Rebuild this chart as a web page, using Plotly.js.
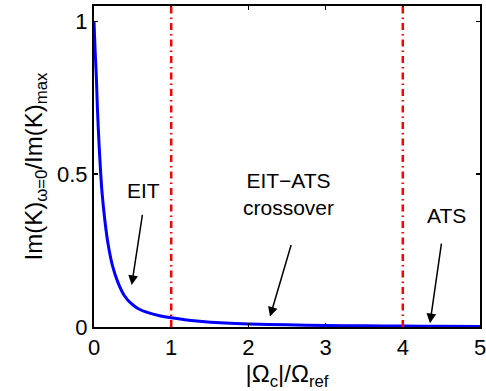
<!DOCTYPE html>
<html>
<head>
<meta charset="utf-8">
<script src="https://cdn.plot.ly/plotly-3.0.1.min.js"></script>
<style>html,body{margin:0;padding:0;background:#fff;}</style>
</head>
<body>
<div id="chart" style="width:486px;height:391px;"></div>
<script>
// Data
const omegaRatio = [0, 0.015, 0.03, 0.045, 0.065, 0.085, 0.104, 0.14, 0.18, 0.24, 0.31, 0.39, 0.48, 0.58, 0.7, 0.85, 1.0, 1.2, 1.4, 1.63, 2.0, 2.5, 3.0, 3.5, 4.0, 4.5, 5.0];
const imKRatio   = [1, 0.9, 0.82, 0.71, 0.6, 0.51, 0.44, 0.35, 0.275, 0.2, 0.146, 0.104, 0.077, 0.059, 0.047, 0.037, 0.03, 0.023, 0.018, 0.014, 0.01, 0.007, 0.005, 0.004, 0.003, 0.0025, 0.002];
const regimeBoundaries = [1, 4];
const xTicks = [0, 1, 2, 3, 4, 5];
const yTicks = [0, 0.5, 1];
const yTickLabels = ['0', '0.5', '1'];
const labelTexts = ['EIT', 'EIT\u2212ATS<br>crossover', 'ATS'];
const labelX = [0.641, 2.513, 4.56];
const labelY = [0.448, 0.435, 0.366];
const arrowTipX = [0.488, 2.28, 4.352];
const arrowTipY = [0.137, 0.034, 0.012];
const arrowTailX = [0.631, 2.561, 4.504];
const arrowTailY = [0.373, 0.275, 0.279];

const FONT = 'Liberation Sans, Arial, Helvetica, sans-serif';

const traces = [{
  x: omegaRatio,
  y: imKRatio,
  type: 'scatter',
  mode: 'lines',
  line: {color: '#0000ff', width: 3, shape: 'spline', smoothing: 0.8},
  hoverinfo: 'skip',
  showlegend: false
}];

const shapes = regimeBoundaries.map(v => ({
  type: 'line', xref: 'x', yref: 'paper',
  x0: v, x1: v, y0: 0, y1: 1,
  line: {color: '#ff0000', width: 2.5, dash: '7px,4px,1.5px,4px'},
  layer: 'above'
}));

const annotations = [];
labelTexts.forEach((t, i) => {
  annotations.push({
    x: labelX[i], y: labelY[i], xref: 'x', yref: 'y',
    text: t, showarrow: false,
    xanchor: 'center', yanchor: 'middle',
    font: {family: FONT, size: 21, color: '#000'}
  });
  annotations.push({
    x: arrowTipX[i], y: arrowTipY[i], xref: 'x', yref: 'y',
    ax: arrowTailX[i], ay: arrowTailY[i], axref: 'x', ayref: 'y',
    text: ' ', showarrow: true,
    arrowhead: 2, arrowsize: 1.3, arrowwidth: 1.5, arrowcolor: '#000',
    standoff: 0, startstandoff: 0,
    font: {size: 1}
  });
});

const layout = {
  width: 486, height: 391,
  margin: {l: 94, r: 6, t: 6, b: 64, pad: 0},
  paper_bgcolor: '#fff', plot_bgcolor: '#fff',
  font: {family: FONT, size: 22, color: '#000'},
  showlegend: false,
  xaxis: {
    range: [0, 5], tickvals: xTicks, ticktext: xTicks.map(String),
    ticks: 'inside', ticklen: 4, tickwidth: 1.5, tickcolor: '#000',
    showline: true, linewidth: 2, linecolor: '#000', mirror: 'ticks',
    showgrid: false, zeroline: false,
    ticklabeloverflow: 'allow',
    tickfont: {family: FONT, size: 22},
    title: {text: '|\u03A9<sub>c</sub>|/\u03A9<sub>ref</sub>', font: {family: FONT, size: 24}, standoff: 2}
  },
  yaxis: {
    range: [0, 1.05], tickvals: yTicks, ticktext: yTickLabels,
    ticks: 'inside', ticklen: 4, tickwidth: 1.5, tickcolor: '#000',
    showline: true, linewidth: 2, linecolor: '#000', mirror: 'ticks',
    showgrid: false, zeroline: false,
    tickfont: {family: FONT, size: 22},
    title: {text: 'Im(K)<sub>\u03C9=0</sub>/Im(K)<sub>max</sub>', font: {family: FONT, size: 24}, standoff: 8}
  },
  shapes: shapes,
  annotations: annotations
};

Plotly.newPlot('chart', traces, layout, {staticPlot: true, displayModeBar: false});
</script>
</body>
</html>
